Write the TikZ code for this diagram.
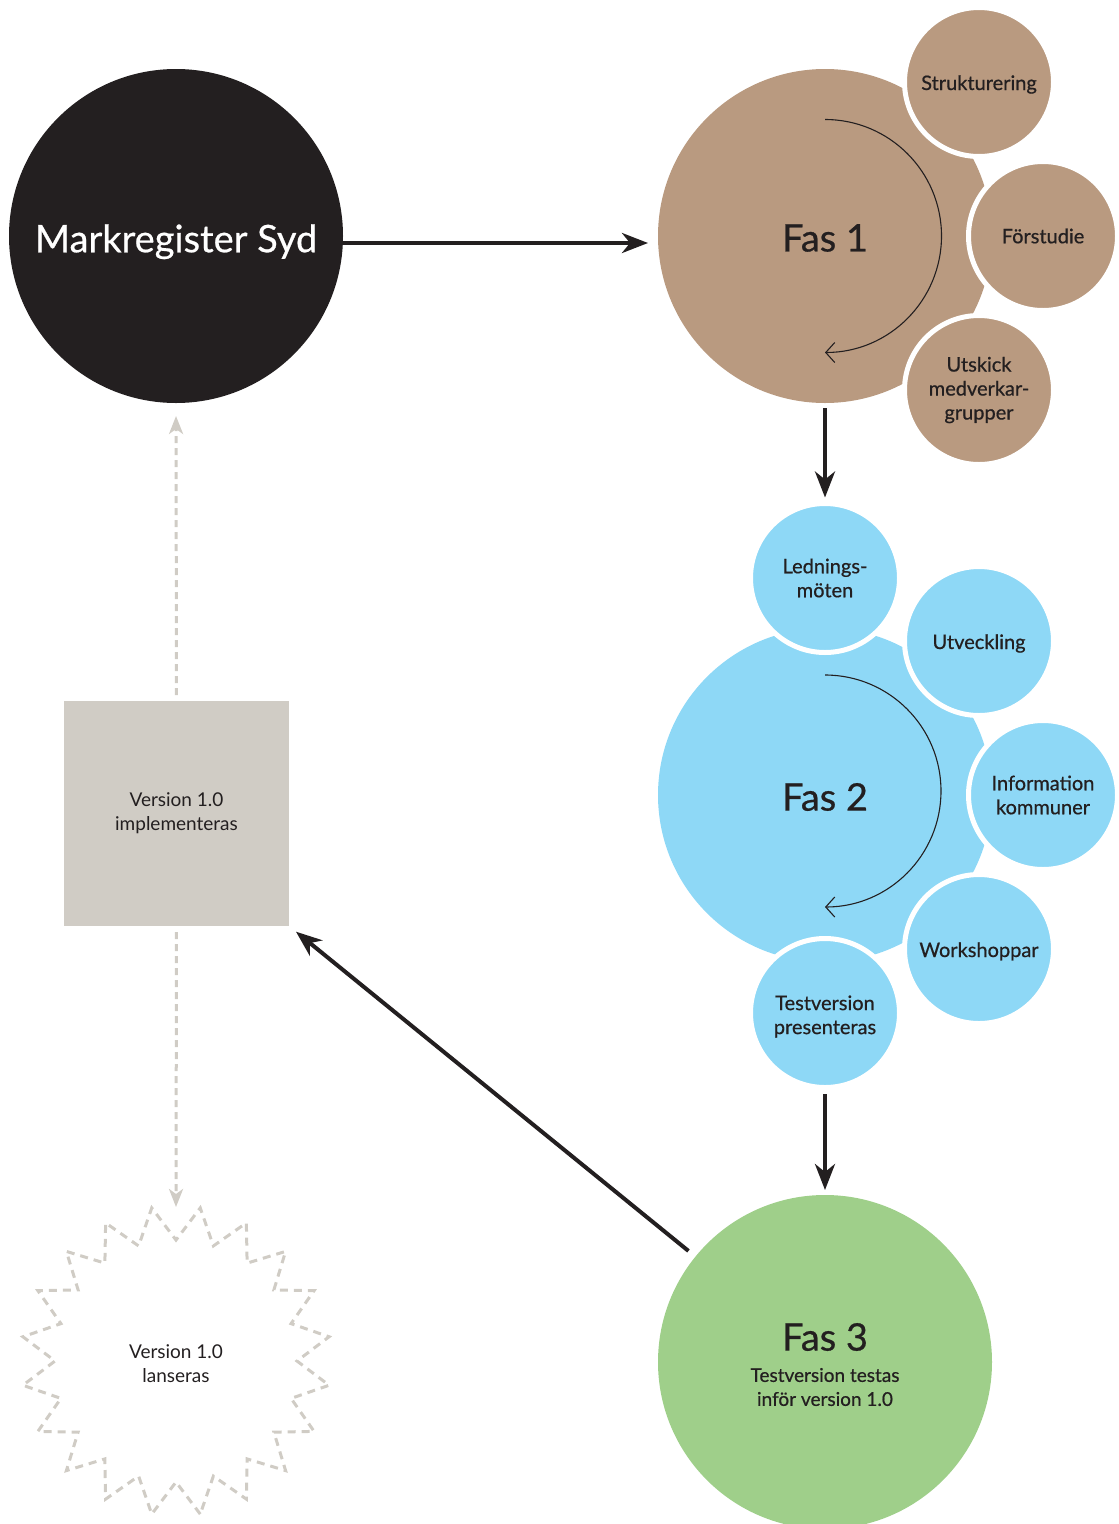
\documentclass[tikz,border=0pt]{standalone}
\usepackage{fontspec}
\setmainfont{Lato}
\newfontfamily\medfont{Lato}[FakeBold=0.6]
\usetikzlibrary{arrows.meta}
\definecolor{tan}{HTML}{B99A80}
\definecolor{sky}{HTML}{8ED8F6}
\definecolor{leaf}{HTML}{9FCF8A}
\definecolor{ink}{HTML}{231F20}
\definecolor{stone}{HTML}{D0CCC5}
\definecolor{lightstone}{HTML}{D0CCC5}
\tikzset{
  bigcirc/.style={circle, minimum size=334pt, inner sep=0pt, outer sep=0pt},
  subcirc/.style={circle, minimum size=149pt, inner sep=0pt, outer sep=0pt, draw=white, line width=5pt, align=center, text=ink, font=\medfont\fontsize{20}{24}\selectfont},
  lowtext/.style={text height=20pt, text depth=4pt},
  phase/.style={text=ink, font=\medfont\fontsize{38}{40}\selectfont},
  blk/.style={draw=ink, line width=4pt, -{Stealth[length=26pt, width=20pt, inset=8pt]}},
  cyc/.style={draw=ink, line width=1.1pt, -{Straight Barb[length=9pt, width=20pt]}},
  gdash/.style={draw=lightstone, line width=3pt, dash pattern=on 7pt off 5pt, -{Stealth[length=18pt, width=14pt, inset=5pt]}},
  stardash/.style={draw=lightstone, line width=3pt, dash pattern=on 8pt off 6pt},
  plain/.style={text=ink, align=center, font=\fontsize{19}{24}\selectfont}
}
\begin{document}
\begin{tikzpicture}[x=1pt, y=-1pt]
\useasboundingbox (0,0) rectangle (1119,1524);

% Markregister Syd
\node[bigcirc, fill=ink, text=white, text height=40pt, text depth=7.5pt, font=\medfont\fontsize{38}{40}\selectfont] (msyd) at (176,236) {Markregister Syd};

% Fas 1
\node[bigcirc, fill=tan] (f1) at (825,236) {};
\node[phase] (f1t) at (825,238) {Fas 1};
\draw[cyc] (f1.center) ++(0,-116.5) arc[start angle=-90, end angle=90, radius=116.5];
\node[subcirc, fill=tan, lowtext] (strukt) at (979,82) {Strukturering};
\node[subcirc, fill=tan] (forst) at (1043,236) {Förstudie};
\node[subcirc, fill=tan] (utsk) at (979,390) {Utskick\\medverkar-\\grupper};

% Fas 2
\node[bigcirc, fill=sky] (f2) at (825,795) {};
\node[phase] (f2t) at (825,797) {Fas 2};
\draw[cyc] (f2.center) ++(0,-120) arc[start angle=-90, end angle=90, radius=116];
\node[subcirc, fill=sky] (led) at (825,578) {Lednings-\\möten};
\node[subcirc, fill=sky, lowtext] (utv) at (979,641) {Utveckling};
\node[subcirc, fill=sky] (info) at (1043,795) {Information\\kommuner};
\node[subcirc, fill=sky, lowtext] (work) at (979,949) {Workshoppar};
\node[subcirc, fill=sky, label={[align=center, text=ink, font=\medfont\fontsize{20}{24}\selectfont, yshift=-3.5pt]center:{Testversion\\presenteras}}] (tpres) at (825,1013) {};

% Fas 3
\node[bigcirc, fill=leaf] (f3) at (825,1362) {};
\node[phase] (f3t) at (825,1337) {Fas 3};
\node[plain, font=\medfont\fontsize{19}{24}\selectfont] (f3s) at (825,1387) {Testversion testas\\inför version 1.0};

% Version 1.0 implementeras
\node[rectangle, fill=stone, minimum size=225pt, inner sep=0pt, outer sep=0pt, plain] (impl) at (176.5,813.5) {Version 1.0\\implementeras};

% Star
\begin{scope}[shift={(176,1361)}]
\draw[stardash] (81:155) \foreach \k in {0,...,18}{ -- ({90+18*\k}:121) -- ({99+18*\k}:155) } -- (72:121) -- cycle;
\end{scope}
\coordinate (startop) at (176,1207);
\node[plain] (lan) at (176,1364) {Version 1.0\\lanseras};

% Connectors
\draw[blk, shorten >=10pt] ([yshift=-7pt]msyd.east) -- ([yshift=-7pt]f1.west);
\draw[blk, shorten <=5pt, shorten >=6pt] (f1.south) -- (led.north);
\draw[blk, shorten <=6.5pt, shorten >=5pt] (tpres.south) -- (f3.north);
\draw[blk, shorten <=9pt, shorten >=9pt] (f3) -- (impl.south east);
\draw[gdash, shorten <=6pt, shorten >=13pt] (impl.north) -- (msyd.south);
\draw[gdash, shorten <=6pt] (impl.south) -- (startop);
\end{tikzpicture}
\end{document}
